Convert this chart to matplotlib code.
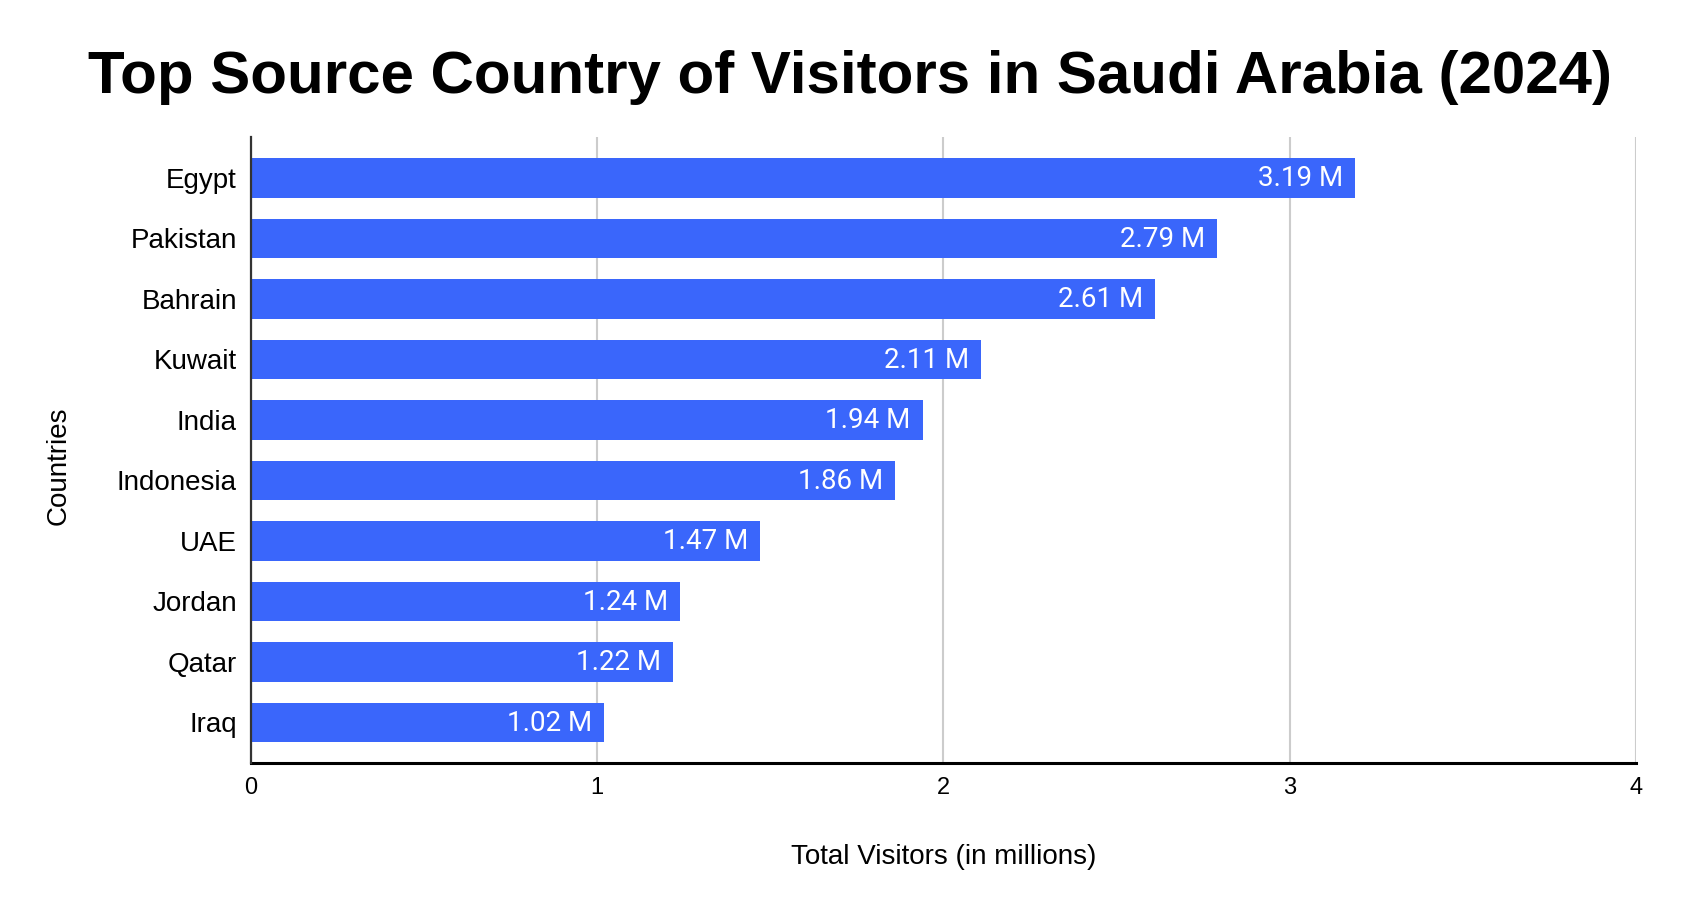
import matplotlib
matplotlib.use("Agg")
from matplotlib import pyplot as plt

countries = ["Egypt", "Pakistan", "Bahrain", "Kuwait", "India",
             "Indonesia", "UAE", "Jordan", "Qatar", "Iraq"]
visitors = [3.19, 2.79, 2.61, 2.11, 1.94, 1.86, 1.47, 1.24, 1.22, 1.02]
xticks = [0, 1, 2, 3, 4]

bar_color = "#3a66fb"

fig = plt.figure(figsize=(16.83, 9.16), dpi=100)
ax = fig.add_axes([0.149, 0.167, 0.823, 0.683])

pos = list(range(len(countries)))
ax.barh(pos, visitors, height=0.65, color=bar_color, zorder=3)

for p, v in zip(pos, visitors):
    ax.annotate(f"{v:.2f} M", xy=(v, p), xytext=(-8.5, -0.5),
                textcoords="offset points", ha="right", va="center",
                color="white", fontsize=20, family="Roboto", zorder=4)

ax.set_yticks(pos)
ax.set_yticklabels(countries, family="Liberation Sans", fontsize=20)
ax.set_ylim(len(countries) - 1 + 0.67, -0.67)

ax.set_xlim(0, 4)
ax.set_xticks(xticks)
ax.set_xticklabels([str(t) for t in xticks], family="Liberation Sans", fontsize=17)
ax.tick_params(axis="both", length=0)
ax.tick_params(axis="y", pad=10)
ax.tick_params(axis="x", pad=10)

ax.grid(axis="x", color="#cccccc", linewidth=1.5, zorder=0)
for s in ["top", "right"]:
    ax.spines[s].set_visible(False)
ax.spines["left"].set_color("#333333")
ax.spines["left"].set_linewidth(1.6)
ax.spines["left"].set_zorder(5)
ax.spines["bottom"].set_color("black")
ax.spines["bottom"].set_linewidth(2.2)

fig.text(0.505, 0.898, "Top Source Country of Visitors in Saudi Arabia (2024)",
         ha="center", va="baseline", fontsize=43.2, fontweight="bold",
         family="Liberation Sans")
fig.text(0.5605, 0.064, "Total Visitors (in millions)", ha="center", va="center",
         fontsize=20, family="Liberation Sans")
fig.text(59 / 1683, 0.491, "Countries", ha="center", va="center",
         rotation=90, fontsize=20, family="Liberation Sans")

fig.savefig("out.png", dpi=100)
